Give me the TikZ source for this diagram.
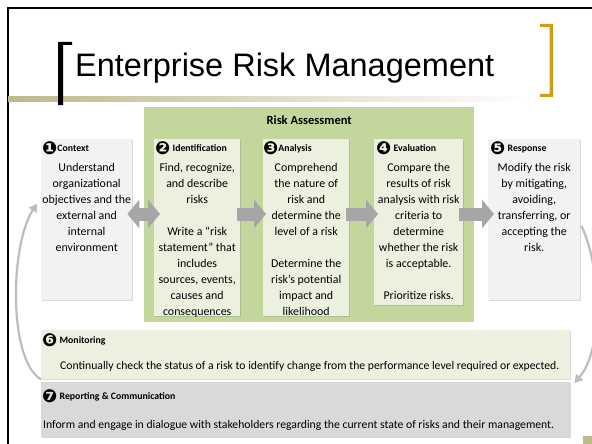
\documentclass[tikz,border=0pt]{standalone}
\usepackage{fontspec}
\setmainfont{Carlito}
\newfontfamily\titlefont{Liberation Sans}
\newfontfamily\dingfont{DejaVu Sans}
\usetikzlibrary{arrows.meta,calc,shadows}

\definecolor{assessgreen}{HTML}{C3D69B}
\definecolor{palegreen}{HTML}{EBF1DE}
\definecolor{palegray}{HTML}{F2F2F2}
\definecolor{reportgray}{HTML}{D9D9D9}
\definecolor{arrowgray}{HTML}{A6A6A6}
\definecolor{curvegray}{HTML}{BDBDBD}
\definecolor{bracketgold}{HTML}{D09E16}
\definecolor{khaki}{HTML}{BDB98A}

\newcommand\numglyph[1]{\raisebox{-2.6pt}{\dingfont\fontsize{18}{18}\selectfont#1}}

\tikzset{
  stepbox/.style={anchor=north west,inner sep=0pt,
    drop shadow={shadow xshift=0.8pt,shadow yshift=-1.2pt,opacity=0.3}},
  headtext/.style={anchor=base west,inner sep=0pt,font=\fontsize{9.8}{11}\selectfont\bfseries},
  bodytext/.style={inner sep=0pt,align=center,font=\fontsize{11.9}{16}\selectfont},
  blockarrow/.style={draw=arrowgray,line width=13pt,-{Triangle[length=12pt,width=28pt]}},
  curvearrow/.style={draw=curvegray,line width=2.2pt,-{Triangle[length=8pt,width=9pt]}}
}

\begin{document}
\begin{tikzpicture}[x=1pt,y=-1pt]
\useasboundingbox[fill=white] (0,0) rectangle (592,444);
%slide frame and title
\draw[line width=2.5pt] (8,444) -- (8,8) -- (592,8);
\shade[left color=khaki,right color=white] (8,97) rectangle (535,101.5);
\fill (58,42) -- (72,42) -- (72,45) -- (63,45) -- (63,105) -- (58,105) -- cycle;
\fill[bracketgold] (540,24) -- (553,24) -- (553,97) -- (540,97) -- (540,94) -- (549.5,94) -- (549.5,27) -- (540,27) -- cycle;
\node[anchor=base west,inner sep=0pt,font=\titlefont\fontsize{32.5}{32.5}\selectfont] (title) at (75,77) {Enterprise Risk Management};
\fill[khaki] (583,436) rectangle (592,444);

%risk assessment group
\node[anchor=north west,inner sep=0pt,fill=assessgreen,minimum width=330pt,minimum height=215pt] (assess) at (144,107) {};
\node[font=\fontsize{12.5}{14}\selectfont\bfseries] (assesstitle) at ($(assess.north)+(0,13)$) {Risk Assessment};

%steps
\node[stepbox,fill=palegray,minimum width=91pt,minimum height=161pt] (context) at (41,139) {};
\node[stepbox,fill=palegreen,minimum width=86pt,minimum height=177pt] (ident) at (154,139) {};
\node[stepbox,fill=palegreen,minimum width=86pt,minimum height=177pt] (analysis) at (263,139) {};
\node[stepbox,fill=palegreen,minimum width=89pt,minimum height=166pt] (eval) at (374,139) {};
\node[stepbox,fill=palegray,minimum width=92pt,minimum height=161pt] (response) at (488,139) {};
\node[stepbox,fill=palegreen,minimum width=529pt,minimum height=49pt] (monitor) at (41,330) {};
\node[stepbox,fill=reportgray,minimum width=529pt,minimum height=55pt] (report) at (41,382) {};

%headers
\node[headtext] (h1) at ($(context.north west)+(1,12.5)$) {\numglyph{❶}Context};
\node[headtext] (h2) at ($(ident.north west)+(1,12.5)$) {\numglyph{❷} Identification};
\node[headtext] (h3) at ($(analysis.north west)+(0,12.5)$) {\numglyph{❸}Analysis};
\node[headtext] (h4) at ($(eval.north west)+(2,12.5)$) {\numglyph{❹} Evaluation};
\node[headtext] (h5) at ($(response.north west)+(2,12.5)$) {\numglyph{❺} Response};
\node[headtext] (h6) at ($(monitor.north west)+(1,13.5)$) {\numglyph{❻} Monitoring};
\node[headtext] (h7) at ($(report.north west)+(1,17.5)$) {\numglyph{❼} Reporting \& Communication};

%texts
\node[bodytext,anchor=north] (t1) at ($(context.north)+(0,24)$) {Understand\\organizational\\objectives and the\\external and\\internal\\environment};
\node[bodytext,anchor=north] (t2) at ($(ident.north)+(0,24)$) {Find, recognize,\\and describe\\risks\\[16pt]Write a “risk\\statement” that\\includes\\sources, events,\\causes and\\consequences};
\node[bodytext,anchor=north] (t3) at ($(analysis.north)+(0,24)$) {Comprehend\\the nature of\\risk and\\determine the\\level of a risk\\[16pt]Determine the\\risk’s potential\\impact and\\likelihood};
\node[bodytext,anchor=north] (t4) at ($(eval.north)+(0,24)$) {Compare the\\results of risk\\analysis with risk\\criteria to\\determine\\whether the risk\\is acceptable.\\[16pt]Prioritize risks.};
\node[bodytext,anchor=north] (t5) at ($(response.north)+(0,24)$) {Modify the risk\\by mitigating,\\avoiding,\\transferring, or\\accepting the\\risk.};
\node[bodytext,anchor=base west,font=\fontsize{11.7}{14}\selectfont] (t6) at ($(monitor.north west)+(19,39.5)$) {Continually check the status of a risk to identify change from the performance level required or expected.};
\node[bodytext,anchor=base west,font=\fontsize{11.7}{14}\selectfont] (t7) at ($(report.north west)+(2,46)$) {Inform and engage in dialogue with stakeholders regarding the current state of risks and their management.};

%connectors
\coordinate (mid) at (0,214);
\draw[blockarrow,{Triangle[length=12pt,width=28pt]}-{Triangle[length=12pt,width=28pt]},shorten <=-5pt,shorten >=-6pt] (context.east |- mid) -- (ident.west |- mid);
\draw[blockarrow,shorten <=-3pt,shorten >=-3pt] (ident.east |- mid) -- (analysis.west |- mid);
\draw[blockarrow,shorten <=-3pt,shorten >=-4pt] (analysis.east |- mid) -- (eval.west |- mid);
\draw[blockarrow,shorten <=-4pt,shorten >=-6pt] (eval.east |- mid) -- (response.west |- mid);
\draw[curvearrow] (monitor.south west) .. controls (8,360) and (10,245) .. ($(context.west)+(-4,-16)$);
\draw[curvearrow] ($(response.east)+(1,6)$) .. controls (602,270) and (603,350) .. ($(report.north east)+(4,1)$);
\end{tikzpicture}
\end{document}
